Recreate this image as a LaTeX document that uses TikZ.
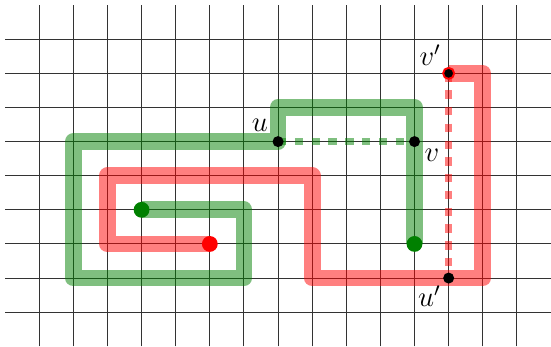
\documentclass[tikz,border=0pt]{standalone}
\usepackage{amsmath}
\usetikzlibrary{positioning}

\begin{document}
\begin{tikzpicture}[
    x=0.5cm, y=0.5cm,
    gridline/.style={draw=black!80, line width=0.4pt},
    gpath/.style={draw=green!50!black, opacity=0.5, line width=7pt, line join=round},
    rpath/.style={draw=red, opacity=0.5, line width=7pt, line join=round},
    gdash/.style={draw=green!50!black, opacity=0.5, line width=3pt, dash pattern=on 3.5pt off 3.5pt},
    rdash/.style={draw=red, opacity=0.5, line width=3pt, dash pattern=on 3.5pt off 3.5pt},
    bdot/.style={fill=black},
    label/.style={font=\large, inner sep=3pt},
]

\useasboundingbox (-1.15,-1) rectangle (15,9.15);

% Grid
\foreach \x in {0,...,14}
  \draw[gridline] (\x,-1) -- (\x,9);
\foreach \y in {0,...,8}
  \draw[gridline] (-1,\y) -- (15,\y);

% Points
\coordinate (gs) at (3,3);
\coordinate (ge) at (11,2);
\coordinate (rs) at (5,2);
\coordinate (u) at (7,5);
\coordinate (v) at (11,5);
\coordinate (u') at (12,1);
\coordinate (v') at (12,7);

% Paths
\draw[gpath] (gs) -- (6,3) -- (6,1) -- (1,1) -- (1,5) -- (u) -- (7,6) -- (11,6) -- (ge);
\draw[rpath] (rs) -- (2,2) -- (2,4) -- (8,4) -- (8,1) -- (13,1) -- (13,7) -- (v');

\draw[gdash] (u) -- (v);
\draw[rdash] (v') -- (u');

% Dots
\fill[green!50!black] (gs) circle (3.3pt);
\fill[green!50!black] (ge) circle (3.3pt);
\fill[red] (rs) circle (3.3pt);
\fill[bdot] (u) circle (2.3pt);
\fill[bdot] (v) circle (2.3pt);
\fill[bdot] (u') circle (2.3pt);
\filldraw[bdot, draw=red, line width=0.8pt] (v') circle (2.3pt);

% Labels
\node[label, above left=1pt and 1pt of u] (lu) {$u$};
\node[label, below right=0pt and 1pt of v] (lv) {$v$};
\node[label, below left=0pt and 0pt of u'] (lu') {$u'$};
\node[label, above left=0pt and 0pt of v'] (lv') {$v'$};

\end{tikzpicture}
\end{document}
